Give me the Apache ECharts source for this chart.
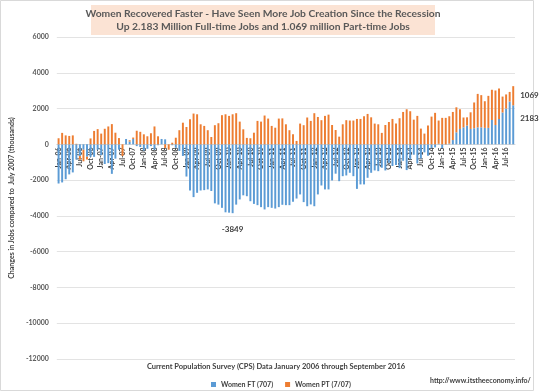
<!DOCTYPE html>
<html><head><meta charset="utf-8">
<script src="https://cdn.jsdelivr.net/npm/echarts@6/dist/echarts.min.js"></script>
<style>html,body{margin:0;padding:0;background:#fff}#c{width:541px;height:392px}</style>
</head><body><div id="c"></div>
<script>
const monthNames = ['Jan','Feb','Mar','Apr','May','Jun','Jul','Aug','Sep','Oct','Nov','Dec'];
const firstYear = 2006, lastYear = 2016, lastMonthIndex = 8; // Jan-06 .. Sep-16
const categories = [];
for (let y = firstYear; y <= lastYear; y++) {
  for (let m = 0; m < 12; m++) {
    if (y === lastYear && m > lastMonthIndex) break;
    categories.push(monthNames[m] + '-' + String(y).slice(2));
  }
}
const womenFT = [
-2190,-2130,-1950,-1680,-1570,-850,-650,-300,-700,-700,-700,-300,
-600,-1100,-1050,-1650,-800,-300,0,300,150,300,-100,-150,
-350,-250,-100,-300,-50,300,280,0,-50,-190,-370,-650,
-1800,-2580,-2950,-2710,-2580,-2560,-2520,-2610,-3300,-3370,-3550,-3800,
-3820,-3849,-3370,-3080,-2850,-2900,-3180,-3330,-3400,-3510,-3640,-3510,
-3550,-3590,-3510,-3380,-3400,-3400,-3210,-3030,-2800,-3230,-3460,-3360,
-3460,-2800,-2300,-2520,-2520,-2020,-1640,-2060,-1780,-1740,-1590,-1780,
-2490,-2240,-2240,-1870,-1590,-1460,-1500,-1310,-1460,-1030,-1210,-1150,
-1330,-920,-1440,-830,-580,-1070,-790,-450,-640,-210,-170,30,
-210,-20,40,240,670,860,950,1050,860,900,950,950,
920,920,1360,1080,1420,1780,2000,2390,2183
];
const womenPT = [
340,640,500,470,500,30,-200,-650,-150,330,750,850,
600,870,1000,1130,650,350,-650,0,80,80,760,700,
560,450,620,1000,450,0,-200,-300,90,370,790,1210,
970,1400,1720,1680,1120,1030,790,410,1070,1180,1630,1680,
1590,1680,1740,1270,840,360,340,650,1310,1270,1610,1440,
1030,930,1440,1450,1120,790,560,190,1160,1070,1500,1310,
1740,1530,1350,1590,1660,1080,800,430,1120,1350,1330,1330,
1420,1420,1570,1700,1510,1160,1120,640,1080,1250,1420,1170,
1460,1810,1960,1850,1380,1590,880,600,1050,1550,1760,1300,
1480,1480,1530,1570,1400,1100,550,460,930,1440,1870,1800,
1490,1790,1690,1930,1700,890,790,540,1069
];
const yTicks = {min:-12000, max:6000, interval:2000};
const titleLines = ['Women Recovered Faster - Have Seen More Job Creation Since the Recession',
                    'Up 2.183 Million Full-time Jobs and 1.069 million Part-time Jobs'];

const FONT = 'Lato, "Open Sans", sans-serif';
const minIdx = womenFT.indexOf(Math.min(...womenFT));
const lastIdx = womenFT.length - 1;

const GRID_TOP = 37, GRID_BOTTOM = 33, H = 392;
const plotH = H - GRID_TOP - GRID_BOTTOM;
const zeroFromBottom = plotH * (0 - yTicks.min) / (yTicks.max - yTicks.min);

const ftData = womenFT.map((v,i)=>{
  if (i === minIdx) return {value:v, label:{show:true, position:'bottom', distance:12, formatter:String(v), color:'#404040', fontSize:8, fontWeight:'bold', fontFamily:FONT}};
  if (i === lastIdx) return {value:v, label:{show:true, position:'right', distance:6, offset:[0,-6], formatter:String(v), color:'#404040', fontSize:8, fontWeight:'bold', fontFamily:FONT}};
  return v;
});
const ptData = womenPT.map((v,i)=>{
  if (i === lastIdx) return {value:v, label:{show:true, position:'right', distance:6, formatter:String(v), color:'#404040', fontSize:8, fontWeight:'bold', fontFamily:FONT}};
  return v;
});

const chart = echarts.init(document.getElementById('c'), null, {renderer:'canvas'});
chart.setOption({
  animation:false,
  backgroundColor:'#ffffff',
  textStyle:{fontFamily:FONT},
  graphic:[
    {type:'rect', shape:{x:0.5,y:0.5,width:533,height:390}, style:{fill:'none', stroke:'#d9d9d9', lineWidth:1}, silent:true},
    {type:'rect', shape:{x:91,y:5,width:344,height:30}, style:{fill:'#FBE3D4'}, silent:true},
    {type:'text', x:263, y:13.5, style:{text:titleLines[0], font:'bold 10.3px '+FONT, fill:'#595959', align:'center', verticalAlign:'middle'}},
    {type:'text', x:263, y:27, style:{text:titleLines[1], font:'bold 10.3px '+FONT, fill:'#595959', align:'center', verticalAlign:'middle'}},
    {type:'text', x:276, y:367, style:{text:'Current Population Survey (CPS) Data January 2006 through September 2016', font:'bold 7.5px '+FONT, fill:'#404040', align:'center', verticalAlign:'middle'}},
    {type:'text', x:430, y:381, style:{text:'http://www.itstheeconomy.info/', font:'bold 7px '+FONT, fill:'#404040', align:'left', verticalAlign:'middle'}}
  ],
  legend:{
    data:['Women FT (707)','Women PT (7/07)'],
    left:206, top:376, icon:'rect', itemWidth:5, itemHeight:5, itemGap:12,
    textStyle:{fontSize:7, fontWeight:'bold', color:'#404040', fontFamily:FONT}
  },
  grid:{left:50, right:26, top:GRID_TOP, bottom:GRID_BOTTOM, containLabel:false},
  xAxis:{
    type:'category', data:categories, position:'bottom', offset:-zeroFromBottom,
    axisLine:{onZero:false, lineStyle:{color:'#d9d9d9'}},
    axisTick:{show:false},
    axisLabel:{interval:2, rotate:90, fontSize:7, fontWeight:'bold', color:'#404040', margin:3, fontFamily:FONT}
  },
  yAxis:{
    type:'value', min:yTicks.min, max:yTicks.max, interval:yTicks.interval,
    name:'Changes in Jobs compared to  July 2007 (thousands)',
    nameLocation:'middle', nameGap:33, nameRotate:90,
    nameTextStyle:{fontSize:7, fontWeight:'bold', color:'#404040', fontFamily:FONT},
    axisLine:{show:false}, axisTick:{show:false},
    axisLabel:{fontSize:7, fontWeight:'bold', color:'#595959', margin:8, fontFamily:FONT, formatter:v=>String(v)},
    splitLine:{lineStyle:{color:'#e3e3e3', width:1}}
  },
  series:[
    {name:'Women FT (707)', type:'bar', stack:'jobs', data:ftData, itemStyle:{color:'#5B9BD5'}, barCategoryGap:'45%'},
    {name:'Women PT (7/07)', type:'bar', stack:'jobs', data:ptData, itemStyle:{color:'#ED7D31'}, barCategoryGap:'45%'}
  ]
});
</script></body></html>
